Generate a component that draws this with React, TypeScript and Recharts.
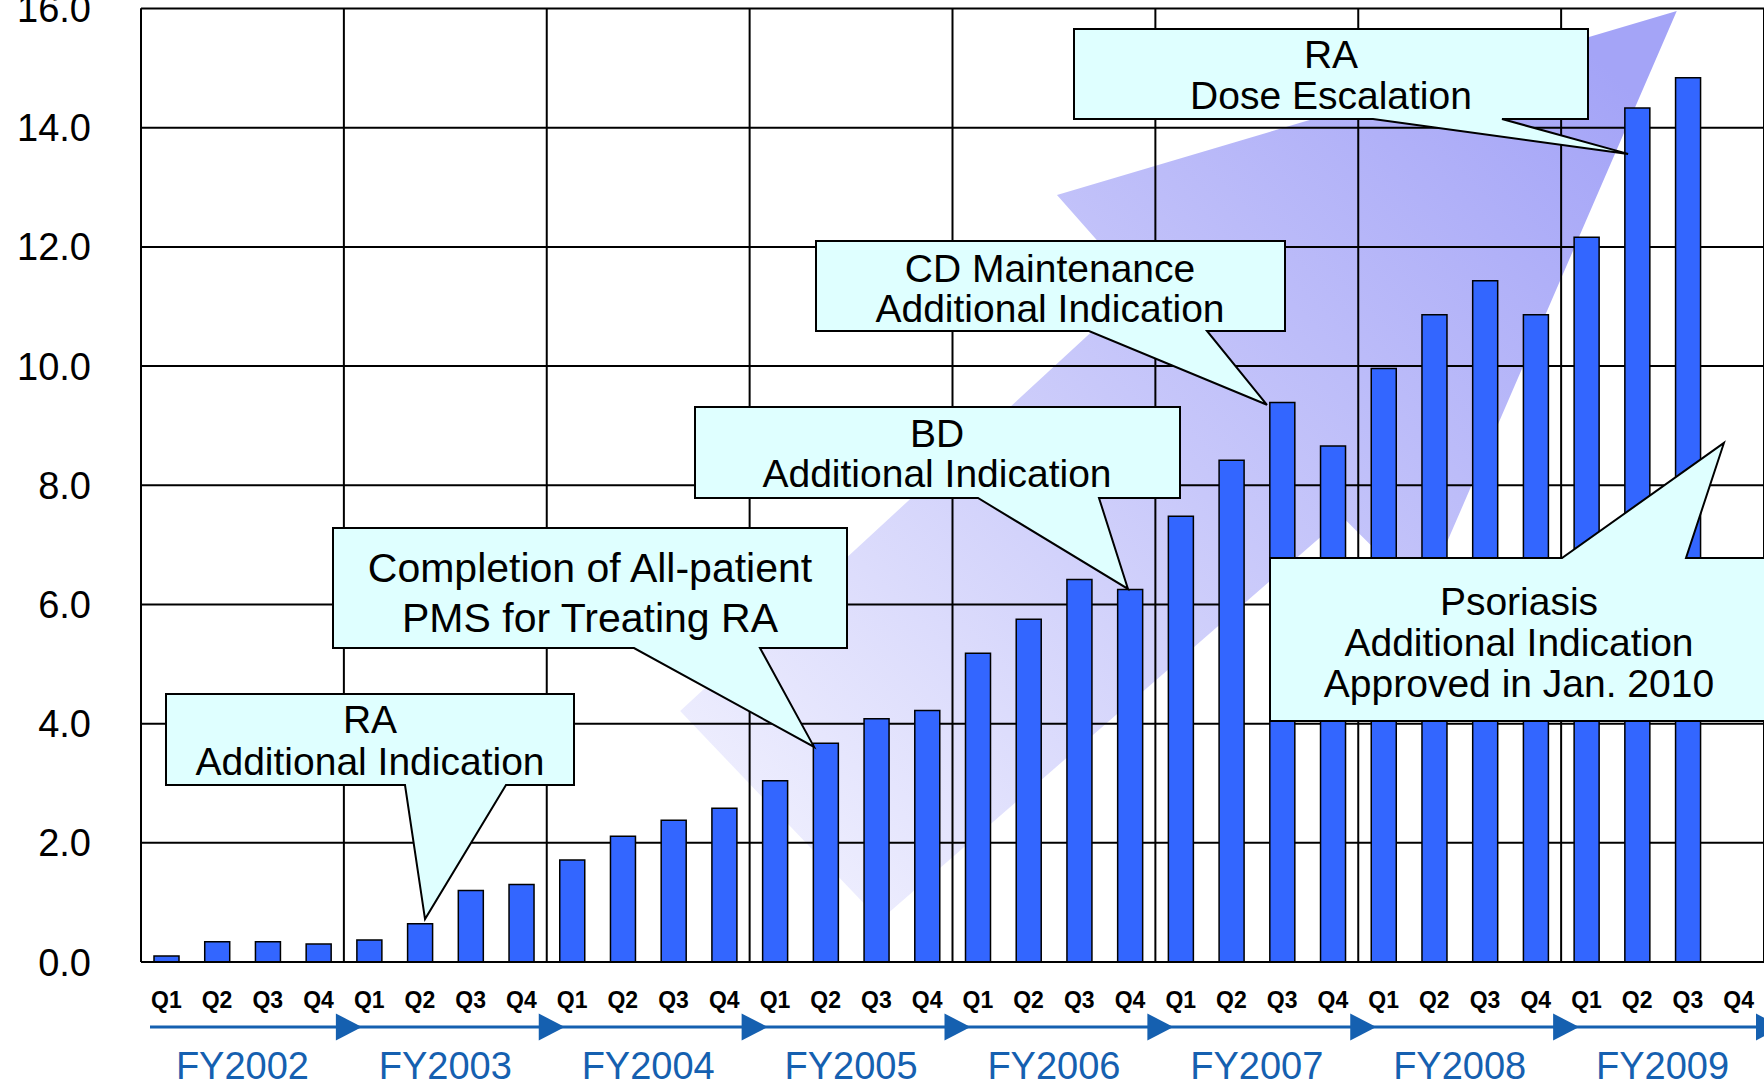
import React from "react";
import { BarChart, Bar, XAxis, YAxis, CartesianGrid } from "recharts";

// quarterly sales (billion yen), FY2002 Q1 .. FY2009 Q4
const quarters = ["Q1", "Q2", "Q3", "Q4"];
const fiscalYears = ["FY2002", "FY2003", "FY2004", "FY2005", "FY2006", "FY2007", "FY2008", "FY2009"];
const salesByQuarter: (number | null)[] = [
  0.1, 0.34, 0.34, 0.3,
  0.37, 0.64, 1.2, 1.3,
  1.71, 2.11, 2.38, 2.58,
  3.04, 3.67, 4.08, 4.22,
  5.18, 5.75, 6.42, 6.25,
  7.48, 8.42, 9.39, 8.66,
  9.96, 10.86, 11.43, 10.86,
  12.16, 14.33, 14.84, null,
];
const yTicks = [0, 2, 4, 6, 8, 10, 12, 14, 16];

const data = salesByQuarter.map((v, i) => ({
  key: `${fiscalYears[Math.floor(i / 4)]}-${quarters[i % 4]}`,
  sales: v,
}));

// layout
const W = 1764;
const H = 1087;
const Y_AXIS_W = 141;
const X_AXIS_H = 125;
const TOP = 8.5;
const PLOT_LEFT = Y_AXIS_W;
const PLOT_BOTTOM = H - X_AXIS_H;
const BAND = (W - PLOT_LEFT) / salesByQuarter.length;
const FONT = '"Liberation Sans", Arial, Helvetica, sans-serif';
const BLUE = "#1560b0";

// category units / value units -> page pixels (for the decorations only)
const catX = (u: number) => PLOT_LEFT + u * BAND;
const valY = (v: number) => PLOT_BOTTOM - (v / 16) * (PLOT_BOTTOM - TOP);

// big background arrow, in (category, value) units
const arrowPts: [number, number][] = [
  [30.28, 15.96],
  [25.28, 6.12],
  [23.7, 7.46],
  [14.57, 0.7],
  [10.63, 4.21],
  [19.68, 11.31],
  [18.06, 12.87],
];

interface Callout {
  lines: string[];
  box: [number, number, number, number];
  base: [number, number];
  tip: [number, number]; // category units, value
  tail: "top" | "bottom";
  lineY: number[];
  cx: number;
  fs: number;
}

const callouts: Callout[] = [
  {
    lines: ["RA", "Additional Indication"],
    box: [166, 694, 574, 785], base: [405, 506], tip: [5.6, 0.72], tail: "bottom",
    lineY: [719, 761], cx: 370, fs: 39,
  },
  {
    lines: ["Completion of All-patient", "PMS for Treating RA"],
    box: [333, 528, 847, 648], base: [634, 760], tip: [13.27, 3.61], tail: "bottom",
    lineY: [567, 617], cx: 590, fs: 41,
  },
  {
    lines: ["BD", "Additional Indication"],
    box: [695, 407, 1180, 498], base: [978, 1099], tip: [19.46, 6.26], tail: "bottom",
    lineY: [433, 473], cx: 937, fs: 39,
  },
  {
    lines: ["CD Maintenance", "Additional Indication"],
    box: [816, 241, 1285, 331], base: [1089, 1207], tip: [22.2, 9.35], tail: "bottom",
    lineY: [268, 308], cx: 1050, fs: 39,
  },
  {
    lines: ["RA", "Dose Escalation"],
    box: [1074, 29, 1588, 119], base: [1373, 1502], tip: [29.32, 13.56], tail: "bottom",
    lineY: [54, 95], cx: 1331, fs: 39,
  },
  {
    lines: ["Psoriasis", "Additional Indication", "Approved in Jan. 2010"],
    box: [1270, 558, 1768, 721], base: [1562, 1686], tip: [31.21, 8.71], tail: "top",
    lineY: [601, 642, 683], cx: 1519, fs: 39,
  },
];

function calloutPath(c: Callout) {
  const [x0, y0, x1, y1] = c.box;
  const [a, b] = c.base;
  const tx = catX(c.tip[0]);
  const ty = valY(c.tip[1]);
  if (c.tail === "top") {
    return `M${x0},${y0} H${a} L${tx},${ty} L${b},${y0} H${x1} V${y1} H${x0} Z`;
  }
  return `M${x0},${y0} H${x1} V${y1} H${b} L${tx},${ty} L${a},${y1} H${x0} Z`;
}

function ValueTick(props: any) {
  const { x, y, payload } = props;
  return (
    <text x={x} y={y + 38 * 0.358} textAnchor="end" fontSize={38} fontFamily={FONT} fill="#000">
      {Number(payload.value).toFixed(1)}
    </text>
  );
}

function QuarterTick(props: any) {
  const { x, y, payload } = props;
  const i: number = payload.index;
  const q = quarters[i % 4];
  const out: React.ReactNode[] = [
    <text key="q" x={x} y={y + 45.5} textAnchor="middle" fontSize={23} fontWeight="bold" fontFamily={FONT} fill="#000">
      {q}
    </text>,
  ];
  if (i % 4 === 0) {
    const start = x - BAND / 2;
    const end = start + 4 * BAND;
    const ly = y + 65;
    out.push(
      <line key="l" x1={start + 9} x2={end} y1={ly} y2={ly} stroke={BLUE} strokeWidth={3} />,
      <polygon key="t" points={`${end - 8},${ly - 13.5} ${end - 8},${ly + 13.5} ${end + 18},${ly}`} fill={BLUE} />,
      <text key="fy" x={start + 2 * BAND} y={y + 116.5} textAnchor="middle" fontSize={38} fontFamily={FONT} fill={BLUE}>
        {fiscalYears[Math.floor(i / 4)]}
      </text>
    );
  }
  return <g>{out}</g>;
}

export default function App() {
  const arrow = arrowPts.map(([u, v]) => `${catX(u)},${valY(v)}`).join(" ");
  const vLines = Array.from({ length: 9 }, (_, k) => catX(4 * k));

  return (
    <div style={{ position: "absolute", left: 0, top: 0, width: W, height: H, background: "#fff", overflow: "hidden" }}>
      <svg width={W} height={H} style={{ position: "absolute", left: 0, top: 0 }}>
        <defs>
          <linearGradient id="arrowFill" gradientUnits="userSpaceOnUse" x1={1600} y1={60} x2={760} y2={880}>
            <stop offset="0" stopColor="#a4a4f7" />
            <stop offset="0.5" stopColor="#c8c8fa" />
            <stop offset="1" stopColor="#f0f0fe" />
          </linearGradient>
        </defs>
        <polygon points={arrow} fill="url(#arrowFill)" />
      </svg>

      <div style={{ position: "absolute", left: 0, top: 0 }}>
        <BarChart width={W} height={H} data={data} margin={{ top: TOP, right: 0, bottom: 0, left: 0 }}>
          <CartesianGrid stroke="#000" strokeWidth={2} verticalPoints={vLines} />
          <XAxis
            dataKey="key"
            height={X_AXIS_H}
            interval={0}
            tickSize={0}
            tickMargin={0}
            axisLine={{ stroke: "#000", strokeWidth: 2 }}
            tickLine={false}
            tick={<QuarterTick />}
          />
          <YAxis
            width={Y_AXIS_W}
            domain={[0, 16]}
            ticks={yTicks}
            interval={0}
            tickSize={0}
            tickMargin={50}
            tickLine={false}
            axisLine={{ stroke: "#000", strokeWidth: 2 }}
            tick={<ValueTick />}
          />
          <Bar dataKey="sales" fill="#3366ff" stroke="#000" strokeWidth={1.5} barSize={25} isAnimationActive={false} />
        </BarChart>
      </div>

      <svg width={W} height={H} style={{ position: "absolute", left: 0, top: 0 }}>
        {callouts.map((c, k) => (
          <g key={k}>
            <path d={calloutPath(c)} fill="#dfffff" stroke="#000" strokeWidth={2} strokeLinejoin="miter" />
            {c.lines.map((t, j) => (
              <text
                key={j}
                x={c.cx}
                y={c.lineY[j] + c.fs * 0.358}
                textAnchor="middle"
                fontSize={c.fs}
                fontFamily={FONT}
                fill="#000"
              >
                {t}
              </text>
            ))}
          </g>
        ))}
      </svg>
    </div>
  );
}
